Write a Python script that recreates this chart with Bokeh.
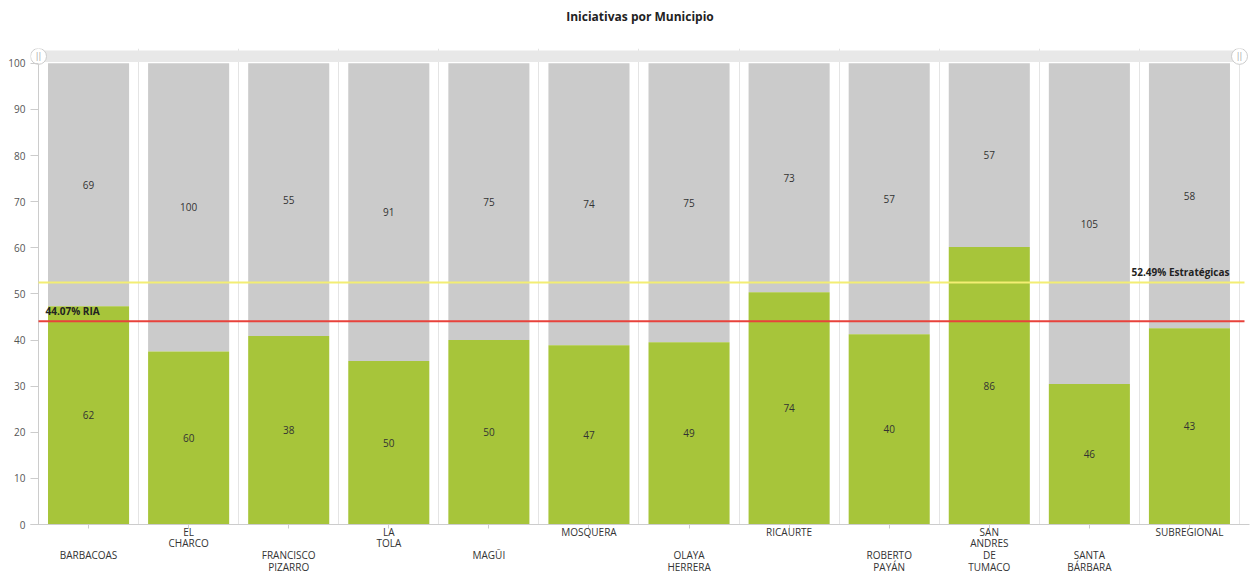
import numpy as np
from bokeh.plotting import figure
from bokeh.models import ColumnDataSource, FixedTicker, Range1d, Label, Title
from bokeh.core.properties import value
from bokeh.embed import file_html
from bokeh.resources import INLINE

municipios = ["BARBACOAS", "EL CHARCO", "FRANCISCO PIZARRO", "LA TOLA", "MAGÜI",
              "MOSQUERA", "OLAYA HERRERA", "RICAURTE", "ROBERTO PAYÁN",
              "SAN ANDRES DE TUMACO", "SANTA BÁRBARA", "SUBREGIONAL"]
tick_labels = ["\n\nBARBACOAS", "EL\nCHARCO", "\n\nFRANCISCO\nPIZARRO", "LA\nTOLA", "\n\nMAGŪI",
               "MOSQUERA", "\n\nOLAYA\nHERRERA", "RICAURTE", "\n\nROBERTO\nPAYÁN",
               "SAN\nANDRES\nDE\nTUMACO", "\n\nSANTA\nBÁRBARA", "SUBREGIONAL"]
ria = [62, 60, 38, 50, 50, 47, 49, 74, 40, 86, 46, 43]
otras = [69, 100, 55, 91, 75, 74, 75, 73, 57, 57, 105, 58]
linea_ria = 44.07
linea_estrategicas = 52.49
titulo = "Iniciativas por Municipio"

ria_a = np.array(ria, dtype=float)
otras_a = np.array(otras, dtype=float)
total = ria_a + otras_a
pct_ria = ria_a / total * 100
n = len(municipios)
xs = np.arange(n) + 0.5

src = ColumnDataSource(dict(
    x=xs, pct=pct_ria, top=np.full(n, 100.0),
    ria_lbl=[str(v) for v in ria], otras_lbl=[str(v) for v in otras],
    ria_mid=pct_ria / 2, otras_mid=(pct_ria + 100) / 2,
))

FONT = "Open Sans"
p = figure(width=1251, height=577, output_backend="svg", toolbar_location=None,
           x_range=Range1d(-0.08, n + 0.1), y_range=Range1d(0, 103.2),
           min_border_left=30, min_border_right=2, min_border_top=48, min_border_bottom=10)
p.outline_line_color = None
p.background_fill_color = "white"

# spacer between frame and title, then the title itself
p.add_layout(Title(text=" ", text_font=FONT, text_font_size="12px", standoff=0), "above")
p.add_layout(Title(text=titulo, align="center", text_font=FONT, text_font_size="12px",
                   text_font_style="bold", text_color="#222222", standoff=10), "above")

# gridlines at category boundaries
p.xgrid.ticker = FixedTicker(ticks=list(range(1, n + 1)))
p.xgrid.grid_line_color = "#e4e4e4"
p.ygrid.grid_line_color = None

# value axis line (at the left edge of the category area)
p.segment(x0=0, y0=0, x1=0, y1=100, line_color="#cccccc", line_width=1)

# bars
p.vbar(x="x", bottom="pct", top="top", width=0.81, source=src,
       fill_color="#cbcbcb", line_color=None)
p.vbar(x="x", bottom=0, top="pct", width=0.81, source=src,
       fill_color="#a7c53a", line_color=None)

p.text(x="x", y="otras_mid", text="otras_lbl", source=src, text_align="center",
       text_baseline="middle", text_font=value(FONT), text_font_size="10px", text_color="#333333")
p.text(x="x", y="ria_mid", text="ria_lbl", source=src, text_align="center",
       text_baseline="middle", text_font=value(FONT), text_font_size="10px", text_color="#333333")

# reference lines
p.segment(x0=0, y0=linea_estrategicas, x1=n + 0.05, y1=linea_estrategicas,
          line_color="#f3ee73", line_width=2)
p.segment(x0=0, y0=linea_ria, x1=n + 0.05, y1=linea_ria,
          line_color="#e8423b", line_width=2)
p.add_layout(Label(x=0.07, y=linea_ria, y_offset=3, text=f"{linea_ria:.2f}% RIA",
                   text_font=FONT, text_font_size="10px", text_font_style="bold",
                   text_color="#222222", text_baseline="bottom", text_align="left"))
p.add_layout(Label(x=n - 0.1, y=linea_estrategicas, y_offset=3,
                   text=f"{linea_estrategicas:.2f}% Estratégicas",
                   text_font=FONT, text_font_size="10px", text_font_style="bold",
                   text_color="#222222", text_baseline="bottom", text_align="right"))

# scrollbar band on top
p.quad(left=0, right=n, bottom=100.25, top=102.75,
       fill_color="#e8e8e8", line_color=None)
p.scatter(x=[0, n], y=[101.5, 101.5], marker="circle", size=16,
          fill_color="white", line_color="#cccccc")
p.text(x=[0, n], y=[101.5, 101.5], text=["||", "||"], text_align="center",
       text_baseline="middle", text_font=value("DejaVu Sans"), text_font_size="8px",
       text_color="#aaaaaa")

# axes
p.yaxis.ticker = FixedTicker(ticks=list(range(0, 101, 10)))
p.yaxis.axis_line_color = None
p.yaxis.major_tick_line_color = "#cccccc"
p.yaxis.major_tick_out = 0
p.yaxis.major_tick_in = 8
p.yaxis.minor_tick_line_color = None
p.yaxis.major_label_text_font = FONT
p.yaxis.major_label_text_font_size = "10px"
p.yaxis.major_label_text_color = "#555555"
p.yaxis.major_label_standoff = 5

p.xaxis.ticker = FixedTicker(ticks=list(xs))
p.xaxis.major_label_overrides = {float(x): lbl for x, lbl in zip(xs, tick_labels)}
p.xaxis.axis_line_color = "#cccccc"
p.xaxis.major_tick_line_color = "#cccccc"
p.xaxis.major_tick_out = 4
p.xaxis.major_tick_in = 0
p.xaxis.minor_tick_line_color = None
p.xaxis.major_label_text_font = FONT
p.xaxis.major_label_text_font_size = "10px"
p.xaxis.major_label_text_color = "#333333"
p.xaxis.major_label_text_line_height = 0.85
p.xaxis.major_label_standoff = -4

open("out.html", "w").write(file_html(p, INLINE))
